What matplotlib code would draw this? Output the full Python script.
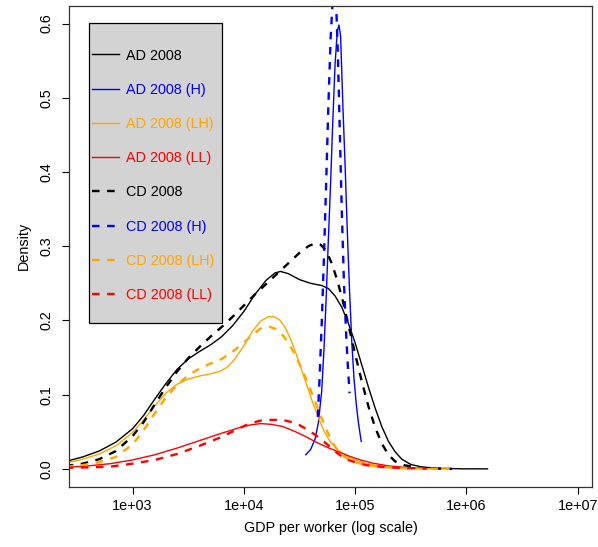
import numpy as np
import matplotlib
matplotlib.use("Agg")
import matplotlib.pyplot as plt
from matplotlib.patches import Rectangle

plt.rcParams['font.family'] = ['Liberation Sans', 'DejaVu Sans']

# ---- data: log10(GDP per worker) and density ----
ad_lx = [2.40, 2.55, 2.70, 2.85, 3.00, 3.10, 3.20, 3.30, 3.40, 3.50, 3.60, 3.70, 3.80, 3.90,
         4.00, 4.10, 4.20, 4.28, 4.33, 4.40, 4.50, 4.60, 4.70, 4.76, 4.82, 4.88, 4.94, 5.00,
         5.06, 5.12, 5.18, 5.24, 5.30, 5.36, 5.42, 5.50, 5.60, 5.75, 5.95, 6.19]
ad_d = [0.010, 0.016, 0.024, 0.036, 0.054, 0.072, 0.094, 0.115, 0.134, 0.148, 0.158, 0.167, 0.178, 0.193,
        0.212, 0.235, 0.254, 0.264, 0.266, 0.263, 0.255, 0.250, 0.247, 0.243, 0.233, 0.218, 0.196, 0.170,
        0.140, 0.110, 0.082, 0.057, 0.037, 0.023, 0.013, 0.006, 0.0025, 0.0008, 0.0001, 0.0]

ad_h_lx = [4.556, 4.60, 4.64, 4.67, 4.70, 4.72, 4.74, 4.76, 4.78, 4.80, 4.82, 4.84, 4.855,
           4.87, 4.89, 4.91, 4.93, 4.95, 4.97, 4.99, 5.01, 5.03, 5.055]
ad_h_d = [0.019, 0.026, 0.040, 0.062, 0.105, 0.160, 0.230, 0.310, 0.385, 0.470, 0.545, 0.590, 0.598,
          0.583, 0.490, 0.410, 0.320, 0.240, 0.172, 0.122, 0.088, 0.062, 0.037]

ad_lh_lx = [2.40, 2.55, 2.70, 2.85, 3.00, 3.10, 3.20, 3.30, 3.40, 3.50, 3.60, 3.70, 3.78, 3.85,
            3.92, 4.00, 4.08, 4.15, 4.22, 4.27, 4.32, 4.37, 4.42, 4.47, 4.52, 4.57, 4.62, 4.67,
            4.72, 4.78, 4.85, 4.92, 5.00, 5.10, 5.22, 5.40, 5.60, 5.84]
ad_lh_d = [0.008, 0.013, 0.020, 0.031, 0.049, 0.066, 0.085, 0.102, 0.114, 0.121, 0.125, 0.128, 0.131, 0.137,
           0.148, 0.166, 0.186, 0.199, 0.205, 0.205, 0.201, 0.191, 0.175, 0.155, 0.133, 0.111, 0.089, 0.069,
           0.051, 0.036, 0.025, 0.018, 0.012, 0.007, 0.004, 0.0015, 0.0005, 0.0]

ad_ll_lx = [2.40, 2.60, 2.80, 3.00, 3.20, 3.40, 3.60, 3.80, 3.95, 4.05, 4.15, 4.25, 4.35, 4.45,
            4.55, 4.65, 4.75, 4.85, 4.95, 5.05, 5.15, 5.30, 5.45, 5.64]
ad_ll_d = [0.002, 0.004, 0.007, 0.012, 0.019, 0.028, 0.038, 0.048, 0.055, 0.059, 0.061, 0.060, 0.057, 0.051,
           0.044, 0.036, 0.029, 0.023, 0.017, 0.012, 0.008, 0.004, 0.002, 0.0005]

cd_lx = [2.40, 2.55, 2.70, 2.85, 3.00, 3.10, 3.20, 3.30, 3.40, 3.50, 3.60, 3.70, 3.80, 3.90,
         4.00, 4.10, 4.20, 4.30, 4.40, 4.50, 4.58, 4.64, 4.69, 4.74, 4.79, 4.84, 4.89, 4.94,
         5.00, 5.06, 5.12, 5.18, 5.24, 5.30, 5.36, 5.44, 5.55, 5.70, 5.87]
cd_d = [0.004, 0.007, 0.013, 0.024, 0.044, 0.063, 0.087, 0.110, 0.131, 0.149, 0.164, 0.178, 0.191, 0.205,
        0.220, 0.235, 0.249, 0.263, 0.277, 0.291, 0.300, 0.304, 0.302, 0.294, 0.277, 0.254, 0.226, 0.194,
        0.155, 0.118, 0.084, 0.056, 0.034, 0.019, 0.010, 0.005, 0.002, 0.0005, 0.0]

cd_h_lx = [4.665, 4.68, 4.70, 4.72, 4.74, 4.76, 4.78, 4.80, 4.815, 4.83, 4.845, 4.86, 4.88,
           4.90, 4.92, 4.935, 4.95]
cd_h_d = [0.070, 0.120, 0.195, 0.285, 0.385, 0.490, 0.580, 0.635, 0.648, 0.625, 0.560, 0.470, 0.350,
          0.250, 0.180, 0.138, 0.102]

cd_lh_lx = [2.40, 2.55, 2.70, 2.85, 3.00, 3.10, 3.20, 3.30, 3.40, 3.50, 3.60, 3.70, 3.80, 3.90,
            4.00, 4.08, 4.15, 4.22, 4.28, 4.34, 4.40, 4.46, 4.52, 4.58, 4.64, 4.70, 4.76, 4.82,
            4.88, 4.95, 5.05, 5.20, 5.40, 5.60, 5.85]
cd_lh_d = [0.003, 0.005, 0.009, 0.016, 0.033, 0.052, 0.075, 0.096, 0.113, 0.126, 0.135, 0.142, 0.148, 0.158,
           0.170, 0.181, 0.189, 0.192, 0.189, 0.182, 0.170, 0.154, 0.135, 0.114, 0.091, 0.068, 0.047, 0.030,
           0.019, 0.012, 0.007, 0.003, 0.001, 0.0003, 0.0]

cd_ll_lx = [2.40, 2.60, 2.80, 3.00, 3.20, 3.40, 3.60, 3.80, 3.95, 4.05, 4.15, 4.25, 4.35, 4.43,
            4.50, 4.57, 4.64, 4.71, 4.78, 4.85, 4.92, 5.00, 5.10, 5.25, 5.40, 5.64]
cd_ll_d = [0.0015, 0.002, 0.003, 0.007, 0.012, 0.020, 0.031, 0.043, 0.054, 0.061, 0.065, 0.066, 0.066, 0.063,
           0.059, 0.053, 0.046, 0.038, 0.029, 0.020, 0.013, 0.009, 0.005, 0.0025, 0.0012, 0.0004]

labels = ["AD 2008", "AD 2008 (H)", "AD 2008 (LH)", "AD 2008 (LL)",
          "CD 2008", "CD 2008 (H)", "CD 2008 (LH)", "CD 2008 (LL)"]
colors = ["black", "blue", "orange", "red", "black", "blue", "orange", "red"]
series = [(ad_lx, ad_d), (ad_h_lx, ad_h_d), (ad_lh_lx, ad_lh_d), (ad_ll_lx, ad_ll_d),
          (cd_lx, cd_d), (cd_h_lx, cd_h_d), (cd_lh_lx, cd_lh_d), (cd_ll_lx, cd_ll_d)]

xticks = [1e3, 1e4, 1e5, 1e6, 1e7]
xticklabels = ["1e+03", "1e+04", "1e+05", "1e+06", "1e+07"]
yticks = [0.0, 0.1, 0.2, 0.3, 0.4, 0.5, 0.6]

FS = 10.4
fig = plt.figure(figsize=(5.98, 5.47), dpi=100)
ax = fig.add_axes([69.3 / 598, 1 - 486.7 / 547, (591.7 - 69.3) / 598, (486.7 - 5.7) / 547])

handles = []
for i, ((lx, d), c, lab) in enumerate(zip(series, colors, labels)):
    x = 10 ** np.array(lx)
    if i < 4:
        ln, = ax.plot(x, d, color=c, lw=1.0, label=lab, solid_joinstyle='round')
    else:
        ln, = ax.plot(x, d, color=c, lw=1.7, label=lab, linestyle=(0, (3.2, 3.2)),
                      dash_capstyle='butt', dash_joinstyle='round')
    handles.append(ln)

ax.set_xscale('log')
ax.set_xlim(10 ** 2.432, 10 ** 7.126)
ax.set_ylim(-0.024, 0.624)
ax.set_xticks(xticks)
ax.set_xticklabels(xticklabels)
ax.xaxis.set_minor_locator(matplotlib.ticker.NullLocator())
ax.set_yticks(yticks)
ax.set_yticklabels([f"{v:.1f}" for v in yticks], rotation=90, va='center')
ax.tick_params(axis='both', direction='out', length=5, width=0.8, labelsize=FS, color='black')
ax.tick_params(axis='x', pad=3.6)
ax.tick_params(axis='y', pad=6.5)
for s in ax.spines.values():
    s.set_linewidth(0.9)
    s.set_color('#333333')

ax.set_xlabel("GDP per worker (log scale)", fontsize=FS, labelpad=6.3)
ax.set_ylabel("Density", fontsize=FS, labelpad=6.0)

# legend box
rect = Rectangle((0.0377, 0.3397), 0.254, 0.6237, transform=ax.transAxes,
                 facecolor='#d3d3d3', edgecolor='black', lw=0.9, zorder=5)
ax.add_patch(rect)
leg = ax.legend(handles=handles, loc='upper left', bbox_to_anchor=(0.044, 0.911),
                frameon=False, fontsize=FS, handlelength=1.87, handletextpad=0.45,
                labelspacing=1.40, borderpad=0, borderaxespad=0, labelcolor='linecolor')
leg.set_zorder(6)

fig.savefig("out.png", dpi=100)
